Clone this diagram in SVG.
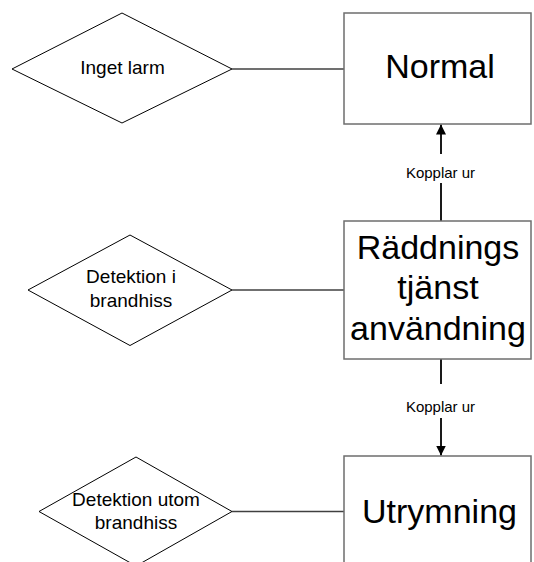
<svg xmlns="http://www.w3.org/2000/svg" width="534" height="562" viewBox="0 0 534 562">
<defs>
<style>
.dia{fill:#fff;stroke:#000;stroke-width:1}
.box{fill:#fff;stroke:#6e6e6e;stroke-width:1.5}
.con{stroke:#404040;stroke-width:1.3;fill:none}
.arr{stroke:#1a1a1a;stroke-width:2;fill:none}
.t{font-family:"Liberation Sans",Arial,sans-serif;fill:#000;text-anchor:middle}
.big{font-size:34px}
.mid{font-size:19px}
.sm{font-size:15px}
</style>
<marker id="ah" viewBox="0 0 10 10" refX="10" refY="5" markerWidth="5" markerHeight="5" markerUnits="strokeWidth" orient="auto">
<path d="M0,0 L10,5 L0,10 z" fill="#000"/>
</marker>
</defs>
<rect width="534" height="562" fill="#fff"/>
<g id="connectors">
<line class="con" x1="232" y1="69" x2="344" y2="69"/>
<line class="con" x1="232" y1="290" x2="344" y2="290"/>
<line class="con" x1="232" y1="511.5" x2="344" y2="511.5"/>
<line class="arr" x1="441" y1="221" x2="441" y2="124.5" marker-end="url(#ah)"/>
<rect x="400" y="154" width="82" height="29" fill="#fff"/>
<text class="t sm" x="440.5" y="177.5">Kopplar ur</text>
<line class="arr" x1="441" y1="359" x2="441" y2="455.5" marker-end="url(#ah)"/>
<rect x="400" y="384" width="82" height="34" fill="#fff"/>
<text class="t sm" x="440.5" y="411.5">Kopplar ur</text>
</g>
<g id="d1">
<polygon class="dia" points="12,69 122,13 232,69 122,123"/>
<text class="t mid" x="122.5" y="74">Inget larm</text>
</g>
<g id="d2">
<polygon class="dia" points="28,290 130,235 232,290 130,345.5"/>
<text class="t mid" x="131" y="283">Detektion i</text>
<text class="t mid" x="131" y="307">brandhiss</text>
</g>
<g id="d3">
<polygon class="dia" points="39,511.5 136,457 232,511.5 136,566"/>
<text class="t mid" x="136" y="506">Detektion utom</text>
<text class="t mid" x="136" y="529">brandhiss</text>
</g>
<g id="normal">
<rect class="box" x="344" y="13" width="187" height="111"/>
<text class="t big" x="440" y="78">Normal</text>
</g>
<g id="raddning">
<rect class="box" x="344" y="221" width="187" height="138"/>
<text class="t big" x="438" y="258.5">Räddnings</text>
<text class="t big" x="438" y="299">tjänst</text>
<text class="t big" x="438" y="339.5">användning</text>
</g>
<g id="utrymning">
<rect class="box" x="344" y="456" width="187" height="120"/>
<text class="t big" x="439.5" y="522.5">Utrymning</text>
</g>
</svg>
